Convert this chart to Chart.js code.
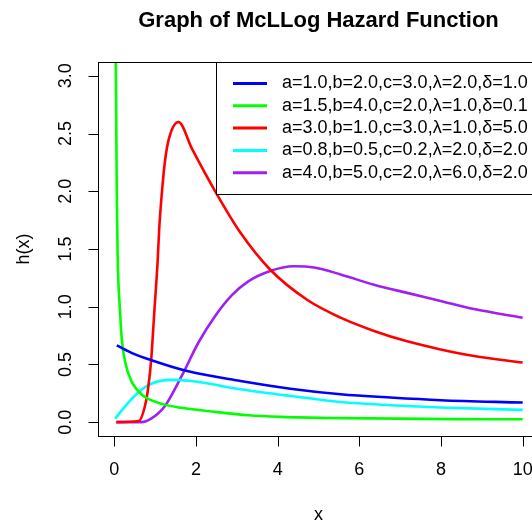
<!DOCTYPE html>
<html lang="en">
<head>
<meta charset="UTF-8">
<title>Graph of McLLog Hazard Function</title>
<style>
html, body { margin: 0; padding: 0; background: #fff; overflow: hidden; }
#wrap { width: 545px; height: 527px; }
</style>
</head>
<body>
<div id="wrap"><canvas id="hazardChart" width="545" height="527"></canvas></div>
<script src="https://cdn.jsdelivr.net/npm/chart.js"></script>
<script>
// axis ticks
const xTicks = [0, 2, 4, 6, 8, 10];
const yTicks = [0, 0.5, 1, 1.5, 2, 2.5, 3];
const yTickLabels = ['0.0', '0.5', '1.0', '1.5', '2.0', '2.5', '3.0'];

// legend
const seriesLabels = [
    'a=1.0,b=2.0,c=3.0,\u03bb=2.0,\u03b4=1.0',
    'a=1.5,b=4.0,c=2.0,\u03bb=1.0,\u03b4=0.1',
    'a=3.0,b=1.0,c=3.0,\u03bb=1.0,\u03b4=5.0',
    'a=0.8,b=0.5,c=0.2,\u03bb=2.0,\u03b4=2.0',
    'a=4.0,b=5.0,c=2.0,\u03bb=6.0,\u03b4=2.0'
];
const seriesColors = ['#0000ff', '#00ff00', '#ff0000', '#00ffff', '#a020f0'];

// values
const blueX = [0.06, 0.42, 0.91, 1.81, 3.09, 4.31, 5.54, 6.76, 7.99, 10];
const blueY = [0.665, 0.60, 0.536, 0.44, 0.357, 0.29, 0.242, 0.213, 0.19, 0.17];

const greenX = [0.03, 0.06, 0.08, 0.14, 0.18, 0.26, 0.42, 0.67, 1.08, 1.65, 2.47, 3.28, 4.07, 5.54, 8.3, 10];
const greenY = [3.4, 2.0, 1.45, 0.96, 0.73, 0.53, 0.354, 0.24, 0.167, 0.124, 0.089, 0.06, 0.046, 0.035, 0.026, 0.025];

const redX = [0.05, 0.6, 0.75, 0.83, 0.90, 0.98, 1.06, 1.10, 1.16, 1.24, 1.34, 1.57, 1.90, 2.47, 3.09, 3.82, 4.72, 5.54, 6.36, 7.17, 7.99, 8.81, 10];
const redY = [0, 0.01, 0.14, 0.30, 0.53, 0.96, 1.39, 1.68, 1.97, 2.26, 2.46, 2.60, 2.37, 2.0, 1.64, 1.32, 1.06, 0.905, 0.79, 0.70, 0.63, 0.573, 0.516];

const cyanX = [0.02, 0.42, 0.83, 1.40, 1.89, 3.09, 4.31, 5.54, 6.76, 7.99, 10];
const cyanY = [0.03, 0.20, 0.32, 0.366, 0.357, 0.285, 0.227, 0.175, 0.147, 0.127, 0.106];

const purpleX = [0.05, 0.66, 0.9, 1.24, 1.65, 2.06, 2.47, 2.88, 3.28, 3.82, 4.39, 4.89, 5.54, 6.36, 7.17, 7.99, 8.81, 10];
const purpleY = [0, 0.0, 0.03, 0.14, 0.40, 0.69, 0.92, 1.10, 1.22, 1.31, 1.35, 1.34, 1.28, 1.19, 1.12, 1.05, 0.98, 0.905];

const seriesX = [blueX, greenX, redX, cyanX, purpleX];
const seriesY = [blueY, greenY, redY, cyanY, purpleY];

const FONT = '"Liberation Sans", Arial, sans-serif';

const rFrame = {
    id: 'rFrame',
    afterDraw(chart) {
        const ctx = chart.ctx;
        const area = chart.chartArea;
        const xs = chart.scales.x;
        const ys = chart.scales.y;
        ctx.save();
        ctx.strokeStyle = '#000';
        ctx.fillStyle = '#000';
        ctx.lineWidth = 1;

        // plot box
        ctx.strokeRect(Math.round(area.left) + 0.5, Math.round(area.top) + 0.5,
            area.right - area.left, Math.round(area.bottom - area.top));

        // x axis
        const bx = Math.round(area.bottom) + 0.5;
        ctx.beginPath();
        ctx.moveTo(xs.getPixelForValue(xTicks[0]), bx);
        ctx.lineTo(xs.getPixelForValue(xTicks[xTicks.length - 1]), bx);
        xTicks.forEach(t => {
            const px = Math.round(xs.getPixelForValue(t)) + 0.5;
            ctx.moveTo(px, bx);
            ctx.lineTo(px, bx + 10);
        });
        ctx.stroke();
        ctx.font = '18px ' + FONT;
        ctx.textAlign = 'center';
        ctx.textBaseline = 'middle';
        xTicks.forEach(t => ctx.fillText(String(t), xs.getPixelForValue(t), 470));

        // y axis
        const lx = Math.round(area.left) + 0.5;
        ctx.beginPath();
        ctx.moveTo(lx, ys.getPixelForValue(yTicks[0]));
        ctx.lineTo(lx, ys.getPixelForValue(yTicks[yTicks.length - 1]));
        yTicks.forEach(t => {
            const py = Math.round(ys.getPixelForValue(t)) + 0.5;
            ctx.moveTo(lx, py);
            ctx.lineTo(lx - 10, py);
        });
        ctx.stroke();
        yTicks.forEach((t, i) => {
            ctx.save();
            ctx.translate(66, ys.getPixelForValue(t));
            ctx.rotate(-Math.PI / 2);
            ctx.fillText(yTickLabels[i], 0, 0);
            ctx.restore();
        });

        // axis titles
        ctx.fillText('x', (area.left + area.right) / 2, 515);
        ctx.save();
        ctx.translate(24, (area.top + area.bottom) / 2);
        ctx.rotate(-Math.PI / 2);
        ctx.fillText('h(x)', 0, 0);
        ctx.restore();

        // main title
        ctx.font = 'bold 22px ' + FONT;
        ctx.textBaseline = 'alphabetic';
        ctx.fillText('Graph of McLLog Hazard Function', (area.left + area.right) / 2, 27);

        // legend
        const lgLeft = 216, lgTop = Math.round(area.top);
        ctx.fillStyle = '#fff';
        ctx.fillRect(lgLeft + 0.5, lgTop + 0.5, 340, 132);
        ctx.strokeStyle = '#000';
        ctx.strokeRect(lgLeft + 0.5, lgTop + 0.5, 340, 132);
        ctx.font = '18px ' + FONT;
        ctx.textAlign = 'left';
        ctx.textBaseline = 'middle';
        seriesLabels.forEach((lab, i) => {
            const ry = 83.5 + i * 22.3;
            ctx.strokeStyle = seriesColors[i];
            ctx.lineWidth = 3;
            ctx.beginPath();
            ctx.moveTo(233, ry);
            ctx.lineTo(267, ry);
            ctx.stroke();
            ctx.fillStyle = '#000';
            ctx.fillText(lab, 282, ry);
        });
        ctx.restore();
    }
};

new Chart(document.getElementById('hazardChart'), {
    type: 'scatter',
    data: {
        datasets: seriesLabels.map((lab, i) => ({
            label: lab,
            data: seriesX[i].map((x, j) => ({ x: x, y: seriesY[i][j] })),
            showLine: true,
            borderColor: seriesColors[i],
            backgroundColor: seriesColors[i],
            borderWidth: 2.6,
            pointRadius: 0,
            cubicInterpolationMode: 'monotone'
        }))
    },
    options: {
        responsive: false,
        animation: false,
        layout: { padding: { left: 98, top: 62, right: 6, bottom: 91 } },
        plugins: { legend: { display: false }, tooltip: { enabled: false }, title: { display: false } },
        scales: {
            x: { type: 'linear', min: -0.4, max: 10.4, display: false },
            y: { type: 'linear', min: -0.12, max: 3.12, display: false }
        }
    },
    plugins: [rFrame]
});
</script>
</body>
</html>
